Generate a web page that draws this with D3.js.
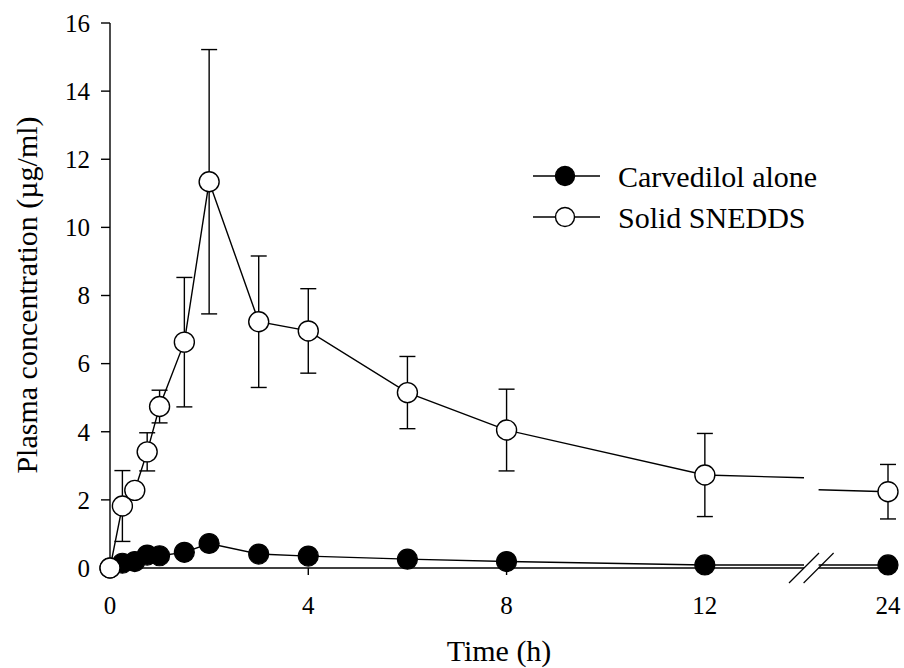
<!DOCTYPE html>
<html>
<head>
<meta charset="utf-8">
<script src="https://cdn.jsdelivr.net/npm/d3@7"></script>
<style>
    body { margin: 0; background: #fff; }
    svg { display: block; }
</style>
</head>
<body>
<div id="pk-chart"></div>
<script>
/**
 * Plasma concentration vs time
 *  */

var timePoints = [0, 0.25, 0.5, 0.75, 1, 1.5, 2, 3, 4, 6, 8, 12, 24];
var carvedilolMean = [0, 0.14, 0.19, 0.38, 0.36, 0.46, 0.72, 0.41, 0.35, 0.26, 0.19, 0.09, 0.09];
var snedddsMean = [0, 1.82, 2.28, 3.41, 4.74, 6.63, 11.34, 7.23, 6.96, 5.15, 4.05, 2.73, 2.24];
var snedddsSD = [0, 1.04, 0, 0.56, 0.48, 1.9, 3.88, 1.93, 1.24, 1.06, 1.2, 1.22, 0.8];
var xTicks = [0, 4, 8, 12, 24];
var yTicks = [0, 2, 4, 6, 8, 10, 12, 14, 16];
var seriesNames = ["Carvedilol alone", "Solid SNEDDS"];

// broken x axis: 14 h .. 22.6 h is cut out
var breakStart = 14,
    breakEnd = 22.6;

drawPkChart();

function drawPkChart() {
    var width = 904,
        height = 668;

    var svg = d3.select("#pk-chart").append("svg")
        .attr("width", width)
        .attr("height", height)
        .attr("font-family", "'Liberation Serif', 'Times New Roman', serif");

    var x = d3.scaleLinear()
        .domain([0, breakStart, breakEnd, 24])
        .range([110, 804, 818.6, 888]);
    var y = d3.scaleLinear()
        .domain([0, 16])
        .range([568, 23]);

    var carvData = timePoints.map(function (t, i) {
        return { t: t, v: carvedilolMean[i] };
    });
    var snedData = timePoints.map(function (t, i) {
        return { t: t, v: snedddsMean[i], sd: snedddsSD[i] };
    });

    // split a series at the axis break, interpolating the value at the cut
    function splitAtBreak(data) {
        var left = [], right = [];
        for (var i = 0; i < data.length; i++) {
            var d = data[i];
            if (d.t <= breakStart) left.push(d);
            if (d.t >= breakEnd) right.push(d);
            var n = data[i + 1];
            if (n && d.t < breakStart && n.t > breakEnd) {
                var f1 = (breakStart - d.t) / (n.t - d.t);
                var f2 = (breakEnd - d.t) / (n.t - d.t);
                left.push({ t: breakStart, v: d.v + (n.v - d.v) * f1 });
                right.push({ t: breakEnd, v: d.v + (n.v - d.v) * f2 });
            }
        }
        return [left, right];
    }

    var line = d3.line()
        .x(function (d) { return x(d.t); })
        .y(function (d) { return y(d.v); });

    // axes
    svg.append("line")
        .attr("x1", x(0)).attr("x2", x(0))
        .attr("y1", y(16)).attr("y2", y(0))
        .attr("stroke", "#000").attr("stroke-width", 1.4);

    svg.append("line")
        .attr("x1", x(0)).attr("x2", x(breakStart))
        .attr("y1", y(0)).attr("y2", y(0))
        .attr("stroke", "#000").attr("stroke-width", 1.4);
    svg.append("line")
        .attr("x1", x(breakEnd)).attr("x2", x(24))
        .attr("y1", y(0)).attr("y2", y(0))
        .attr("stroke", "#000").attr("stroke-width", 1.4);

    svg.selectAll(".ytick")
        .data(yTicks)
        .enter().append("line")
        .attr("class", "ytick")
        .attr("x1", x(0) - 9).attr("x2", x(0))
        .attr("y1", function (d) { return y(d); })
        .attr("y2", function (d) { return y(d); })
        .attr("stroke", "#000").attr("stroke-width", 1.4);

    svg.selectAll(".ylabel")
        .data(yTicks)
        .enter().append("text")
        .attr("class", "ylabel")
        .attr("x", 90)
        .attr("y", function (d) { return y(d); })
        .attr("dy", "0.35em")
        .attr("text-anchor", "end")
        .attr("font-size", "25px")
        .text(function (d) { return d; });

    svg.selectAll(".xtick")
        .data(xTicks)
        .enter().append("line")
        .attr("class", "xtick")
        .attr("x1", function (d) { return x(d); })
        .attr("x2", function (d) { return x(d); })
        .attr("y1", y(0)).attr("y2", y(0) + 7)
        .attr("stroke", "#000").attr("stroke-width", 1.4);

    svg.selectAll(".xlabel")
        .data(xTicks)
        .enter().append("text")
        .attr("class", "xlabel")
        .attr("x", function (d) { return x(d); })
        .attr("y", 605)
        .attr("dy", "0.35em")
        .attr("text-anchor", "middle")
        .attr("font-size", "25px")
        .text(function (d) { return d; });

    svg.append("text")
        .attr("x", (x(0) + x(24)) / 2)
        .attr("y", 661)
        .attr("text-anchor", "middle")
        .attr("font-size", "30px")
        .text("Time (h)");

    svg.append("text")
        .attr("transform", "translate(37," + 295 + ") rotate(-90)")
        .attr("text-anchor", "middle")
        .attr("font-size", "30px")
        .text("Plasma concentration (µg/ml)");

    // series lines
    splitAtBreak(carvData).forEach(function (seg) {
        svg.append("path")
            .attr("d", line(seg))
            .attr("fill", "none")
            .attr("stroke", "#000")
            .attr("stroke-width", 1.4);
    });
    splitAtBreak(snedData).forEach(function (seg) {
        svg.append("path")
            .attr("d", line(seg))
            .attr("fill", "none")
            .attr("stroke", "#000")
            .attr("stroke-width", 1.4);
    });

    // break marks
    [breakStart, breakEnd].forEach(function (b) {
        svg.append("line")
            .attr("x1", x(b) - 15).attr("y1", y(0) + 15)
            .attr("x2", x(b) + 15).attr("y2", y(0) - 15)
            .attr("stroke", "#000").attr("stroke-width", 1.2);
    });

    // error bars (SNEDDS)
    var errData = snedData.filter(function (d) { return d.sd > 0; });
    var err = svg.selectAll(".err")
        .data(errData)
        .enter().append("g")
        .attr("class", "err")
        .attr("stroke", "#000")
        .attr("stroke-width", 1.4);
    err.append("line")
        .attr("x1", function (d) { return x(d.t); })
        .attr("x2", function (d) { return x(d.t); })
        .attr("y1", function (d) { return y(d.v + d.sd); })
        .attr("y2", function (d) { return y(d.v - d.sd); });
    err.append("line")
        .attr("x1", function (d) { return x(d.t) - 8; })
        .attr("x2", function (d) { return x(d.t) + 8; })
        .attr("y1", function (d) { return y(d.v + d.sd); })
        .attr("y2", function (d) { return y(d.v + d.sd); });
    err.append("line")
        .attr("x1", function (d) { return x(d.t) - 8; })
        .attr("x2", function (d) { return x(d.t) + 8; })
        .attr("y1", function (d) { return y(d.v - d.sd); })
        .attr("y2", function (d) { return y(d.v - d.sd); });

    // markers
    svg.selectAll(".carv")
        .data(carvData)
        .enter().append("circle")
        .attr("class", "carv")
        .attr("cx", function (d) { return x(d.t); })
        .attr("cy", function (d) { return y(d.v); })
        .attr("r", 10)
        .attr("fill", "#000")
        .attr("stroke", "#000")
        .attr("stroke-width", 1.2);

    svg.selectAll(".sned")
        .data(snedData)
        .enter().append("circle")
        .attr("class", "sned")
        .attr("cx", function (d) { return x(d.t); })
        .attr("cy", function (d) { return y(d.v); })
        .attr("r", 10)
        .attr("fill", "#fff")
        .attr("stroke", "#000")
        .attr("stroke-width", 1.4);

    // legend
    var legend = svg.selectAll(".legend")
        .data(seriesNames)
        .enter().append("g")
        .attr("class", "legend")
        .attr("transform", function (d, i) {
            return "translate(533," + (176 + i * 41) + ")";
        });
    legend.append("line")
        .attr("x1", 0).attr("x2", 67)
        .attr("y1", 0).attr("y2", 0)
        .attr("stroke", "#000").attr("stroke-width", 1.4);
    legend.append("circle")
        .attr("cx", 32).attr("cy", 0)
        .attr("r", 9.5)
        .attr("fill", function (d, i) { return i === 0 ? "#000" : "#fff"; })
        .attr("stroke", "#000")
        .attr("stroke-width", 1.4);
    legend.append("text")
        .attr("x", 85)
        .attr("y", 0)
        .attr("dy", "0.35em")
        .attr("font-size", "30px")
        .text(function (d) { return d; });
}
</script>
</body>
</html>
